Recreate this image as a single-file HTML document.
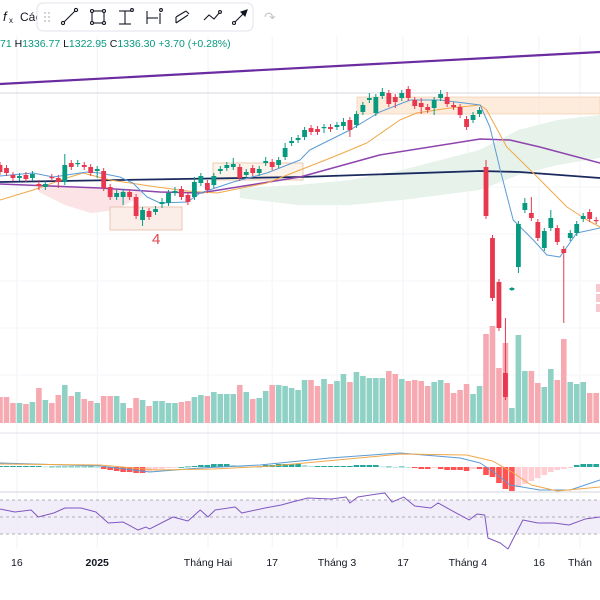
<!DOCTYPE html>
<html><head><meta charset="utf-8"><style>
html,body{margin:0;padding:0;background:#fff;}
svg{display:block;font-family:"Liberation Sans",sans-serif;}
</style></head><body>
<svg id="chart" width="600" height="600" viewBox="0 0 600 600">
<g id="grid"></g>
<g id="clouds"></g>
<g id="zones">
  <line x1="0" y1="93" x2="600" y2="93" stroke="#d6d9e0" stroke-width="1"/>
  <rect x="357" y="97" width="243" height="17" fill="#fde6d3" fill-opacity="0.8" stroke="#f5c6a0" stroke-width="0.6"/>
  <rect x="110" y="207" width="72" height="23" fill="#fbeee8" stroke="#e7b9a8" stroke-width="0.8"/>
  <rect x="213" y="163" width="90" height="17" fill="#fbeee2" fill-opacity="0.7" stroke="#e7c0a0" stroke-width="0.8"/>
  <text x="152" y="244" font-size="15" fill="#e0454f">4</text>
  <line x1="0" y1="84" x2="600" y2="52" stroke="#6a2ca0" stroke-width="2.2"/>
</g>
<g id="vol"></g>
<g id="lines"></g>
<g id="candles"></g>
<line x1="0" y1="433" x2="600" y2="433" stroke="#e0e3eb"/>
<g id="macd"></g>
<line x1="0" y1="492" x2="600" y2="492" stroke="#d1d4dc"/>
<g id="rsi">
  <rect x="0" y="500" width="600" height="34" fill="#ede7f6" fill-opacity="0.7"/>
  <line x1="0" y1="500" x2="600" y2="500" stroke="#9598a1" stroke-dasharray="3,3" stroke-width="0.8"/>
  <line x1="0" y1="517" x2="600" y2="517" stroke="#9598a1" stroke-dasharray="3,3" stroke-width="0.8"/>
  <line x1="0" y1="534" x2="600" y2="534" stroke="#9598a1" stroke-dasharray="3,3" stroke-width="0.8"/>
</g>
<g id="xaxis"></g>
<g>
  <rect x="596" y="284" width="4" height="8" fill="#f7c9cf"/>
  <rect x="596" y="294" width="4" height="8" fill="#f7c9cf"/>
  <rect x="596" y="304" width="4" height="8" fill="#f7c9cf"/>
</g>
<!-- header -->
<g>
  <text x="3" y="21" font-size="13" fill="#131722" font-style="italic">f</text>
  <text x="9" y="23" font-size="8" fill="#131722">x</text>
  <text x="20" y="21" font-size="12" fill="#131722">Các</text>
  <text x="264" y="22" font-size="14" fill="#c5c8ce">↷</text>
  <text x="0" y="47" font-size="10.5"><tspan fill="#089981">71 </tspan><tspan fill="#131722">H</tspan><tspan fill="#089981">1336.77 </tspan><tspan fill="#131722">L</tspan><tspan fill="#089981">1322.95 </tspan><tspan fill="#131722">C</tspan><tspan fill="#089981">1336.30 +3.70 (+0.28%)</tspan></text>
</g>
<g>
  <rect x="37" y="3" width="216" height="28" rx="6" fill="#fff" stroke="#e0e3eb"/>
  <g fill="#b2b5be"><circle cx="45" cy="13" r="0.9"/><circle cx="49" cy="13" r="0.9"/><circle cx="45" cy="17" r="0.9"/><circle cx="49" cy="17" r="0.9"/><circle cx="45" cy="21" r="0.9"/><circle cx="49" cy="21" r="0.9"/></g>
  <g fill="none" stroke="#131722" stroke-width="1.1">
    <g><line x1="64" y1="22" x2="75" y2="11"/><circle cx="63" cy="23" r="1.6" fill="#fff"/><circle cx="76" cy="10" r="1.6" fill="#fff"/></g>
    <g><rect x="92" y="11" width="12" height="12"/><circle cx="92" cy="11" r="1.5" fill="#fff"/><circle cx="104" cy="11" r="1.5" fill="#fff"/><circle cx="92" cy="23" r="1.5" fill="#fff"/><circle cx="104" cy="23" r="1.5" fill="#fff"/></g>
    <g><line x1="119" y1="11" x2="131" y2="11"/><line x1="119" y1="24" x2="131" y2="24"/><line x1="125" y1="11" x2="125" y2="24"/><circle cx="132" cy="10" r="1.4" fill="#fff"/></g>
    <g><line x1="147" y1="11" x2="147" y2="24"/><line x1="160" y1="13" x2="160" y2="24"/><line x1="147" y1="18" x2="158" y2="18"/><circle cx="161" cy="10" r="1.4" fill="#fff"/></g>
    <g><path d="M176 17 L186 11 M176 23 L188 15 M176 17 L176 23 M186 11 L189 14"/></g>
    <g><path d="M204 20 L209 15 L214 19 L220 12"/><circle cx="220" cy="12" r="1.4" fill="#fff"/></g>
    <g><line x1="235" y1="22" x2="245" y2="12"/><circle cx="234" cy="23" r="1.5" fill="#fff"/><path d="M241 12 L247 10 L245 16 Z" fill="#131722"/></g>
  </g>
</g>
</svg>
<script>
// ===== data =====
const openP  = [1265,1262,1255,1252,1255,1252,1246,1243,1253,1252,1248,1267,1266,1265,1263,1259,1259,1243,1233,1233,1238,1233,1210,1219,1218,1226,1227,1237,1241,1235,1233,1247,1247,1245,1259,1262,1263,1263,1255,1262,1257,1267,1268,1265,1273,1287,1290,1293,1302,1301,1302,1303,1303,1304,1310,1305,1318,1330,1317,1334,1337,1333,1332,1341,1330,1327,1323,1322,1332,1333,1325,1323,1311,1310,1316,1263,1192,1148,1057,1140,1163,1220,1217,1208,1182,1202,1202,1181,1192,1197,1211,1218,1210];
const closeP = [1258,1257,1252,1254,1251,1256,1244,1246,1252,1248,1265,1263,1267,1263,1257,1261,1242,1233,1237,1238,1233,1214,1220,1213,1221,1228,1237,1239,1233,1228,1248,1254,1240,1254,1261,1265,1266,1252,1258,1257,1261,1269,1263,1270,1282,1289,1292,1300,1298,1298,1303,1301,1305,1308,1300,1316,1325,1332,1333,1338,1326,1328,1337,1332,1324,1323,1320,1330,1336,1326,1323,1315,1303,1315,1320,1214,1132,1102,1033,1142,1206,1227,1212,1192,1199,1212,1188,1177,1197,1206,1214,1211,1209];
const highP  = [1268,1265,1258,1257,1258,1259,1250,1249,1256,1255,1276,1270,1270,1268,1266,1264,1262,1246,1240,1241,1241,1236,1223,1222,1224,1232,1240,1243,1244,1238,1253,1257,1250,1257,1264,1268,1272,1266,1261,1265,1264,1273,1271,1273,1287,1293,1295,1303,1305,1304,1306,1306,1308,1312,1313,1319,1328,1337,1336,1342,1340,1336,1340,1344,1333,1332,1326,1333,1340,1338,1328,1326,1314,1318,1323,1270,1195,1151,1112,1143,1209,1232,1233,1211,1202,1220,1205,1184,1200,1209,1217,1221,1213];
const lowP   = [1255,1254,1249,1249,1248,1249,1240,1240,1249,1242,1245,1260,1263,1260,1254,1252,1239,1230,1230,1225,1230,1211,1204,1210,1215,1222,1224,1234,1230,1225,1230,1244,1237,1242,1256,1259,1260,1249,1252,1254,1254,1264,1260,1262,1270,1284,1287,1290,1295,1295,1297,1298,1300,1300,1293,1302,1315,1327,1314,1331,1323,1322,1329,1329,1321,1316,1317,1315,1329,1323,1320,1312,1300,1307,1313,1211,1129,1099,1030,1139,1157,1217,1209,1189,1179,1199,1185,1107,1189,1194,1208,1208,1206];
const volume = [26,26,20,20,19,21,35,23,20,28,38,27,31,24,22,20,27,27,27,20,15,25,23,17,22,22,20,20,21,22,26,28,27,31,29,29,29,38,31,24,25,32,38,38,37,35,33,43,43,37,44,39,42,49,41,51,47,45,45,45,52,49,44,42,43,42,37,41,43,40,30,33,39,29,37,89,97,55,80,15,88,52,52,40,36,54,43,84,41,39,41,30,30];
const macdHist = [1,1,1,1,1,1,1,0.5,0.5,0.5,0.5,0.5,0.5,0.5,0.5,0,-2,-3,-4,-5,-5,-6,-6,-5,-3,-2,-1,-0.5,0,0.5,1,2,2,3,3,3,2,1,0.5,0.5,0.5,2,2,3,3,3,3,2,1,1,1,1,1,1,1,2,2,2,2,0.5,0.5,0,0.5,0,-1,-2,-2,-1,-2,-3,-3,-3,-4,-2,-2,-8,-10,-16,-22,-24,-20,-17,-14,-11,-8,-5,-3,-2,-1,2,3,3,3];
const macdIdx = [0,15.4,23.1,30.9,40.1,50.9,59.4,61.7,71,74.1,76.4,78.7,83.3,88,92.6];
const macdVal = [4,1,-5,-1,2,9,13,14,9,4,-6,-18,-23,-23,-13];
const signalIdx = [0,15.4,24,33,42,52,62,72,76,79,82,86,92.6];
const signalVal = [3,2,-3,-2,1,7,13,12,6,-5,-18,-24,-20];
const rsiIdx = [0,2.3,4.8,5.9,8.3,10,12.5,14.8,16.7,19,21.3,22.5,23.1,26.7,29,30.9,32.1,33.2,36.3,37.3,40.9,43.4,45.1,47.5,51.1,53.4,54,55.2,58.2,59.4,60.5,62.3,64,66.5,67.6,70.1,72.4,73.6,74.8,75.3,77.2,78.4,79.5,80.7,83,85.5,87.8,90.3,92.6];
const rsiVal = [59.4,55.9,58.2,50,54.7,60.6,60.6,55.9,42.9,44.1,34.7,38.2,35.9,50,45.3,58.2,50,58.2,61.8,54.7,60.6,64.1,67.6,72.4,71.2,73.5,66.5,73.5,77.1,78.2,67.6,73.5,62.9,60.6,66.5,55.9,46.5,53.5,52.4,25.3,19.4,12.4,28.8,46.5,42.9,42.9,40.6,47.6,50];
const blueIdx = [0,5.1,8.2,10.3,13.4,15.4,18.5,20.5,22.7,24.7,28.9,30.9,36,41.2,46.3,47.8,54,58.6,63.3,67.9,74.1,75.6,77.2,79.2,82.3,84.4,86.4,89,92.6];
const blueVal = [1254,1257,1253,1255,1258,1257,1253,1247,1233,1227,1228,1237,1248,1257,1270,1280,1300,1318,1330,1330,1325,1303,1260,1210,1190,1175,1173,1197,1202];
const orangeIdx = [0,5.1,10.3,12.8,17,23.1,28.9,33.5,41.2,46.3,51.4,56.6,61.7,64.3,69.4,74.1,75.1,78.2,82.3,87.5,90.6,92.6];
const orangeVal = [1230,1240,1252,1257,1250,1244,1239,1237,1247,1260,1273,1287,1310,1317,1322,1325,1320,1283,1257,1223,1210,1203];
const purpleIdx = [0,15.4,24.7,30.9,38.6,46.3,58.6,74.1,78.7,83.3,92.6];
const purpleVal = [1246,1242,1238,1237,1245,1253,1275,1291,1290,1283,1267];
const navyIdx = [0,46.3,74.1,80.2,92.6];
const navyVal = [1248,1253,1259,1258,1252];
const pinkCloudIdx = [6,10,14,18,22];
const pinkCloudA = [1246,1244,1242,1240,1238];
const pinkCloudB = [1238,1225,1217,1220,1235];
const greenCloudIdx = [37,46,54,62,74,80,86,92.6];
const greenCloudA = [1242,1245,1250,1260,1280,1300,1310,1315];
const greenCloudB = [1232,1225,1225,1230,1240,1255,1265,1272];
const tickLabels = ["16","2025","Tháng Hai","17","Tháng 3","17","Tháng 4","16","Thán"];
const tickIdx = [2.6,15,32.1,42,52,62.2,72.2,83.2,89.5];

// ===== scales =====
const STEP = 6.48;
const xs = i => i * STEP;
const ys = p => 1430 - p;
const yVol = v => 423 - v;
const yMacd = v => 467 - v;
const yRsi = r => 517 - (r - 50) * 0.85;
const NS = "http://www.w3.org/2000/svg";
function mk(tag, attrs, parent){ const e=document.createElementNS(NS,tag); for(const k in attrs) e.setAttribute(k,attrs[k]); parent.appendChild(e); return e; }
const G = id => document.getElementById(id);

// grid + x-axis
tickIdx.forEach((t,k)=>{
  const gl = mk('line',{x1:xs(t),x2:xs(t),y1:36,y2:548,stroke:'#f0f3fa','stroke-width':1},G('grid'));
  
  
  const tx = mk('text',{x:xs(t),y:566,'font-size':10.5,'text-anchor':'middle',fill:'#131722','font-weight':tickLabels[k]==='2025'?'bold':'normal'},G('xaxis'));
  tx.textContent = tickLabels[k];
  
  
});
[140,187,234,281,328,375].forEach(y=>{
  const hl = mk('line',{x1:0,x2:600,y1:y,y2:y,stroke:'#f5f6f9'},G('grid'));
  
  
});

// clouds
function cloud(idx,a,b,fill){
  let pts = idx.map((t,k)=>xs(t)+','+ys(a[k]));
  pts = pts.concat(idx.slice().reverse().map((t,k)=>xs(t)+','+ys(b[idx.length-1-k])));
  return mk('polygon',{points:pts.join(' '),fill:fill},G('clouds'));
}
const pc = cloud(pinkCloudIdx,pinkCloudA,pinkCloudB,'#fbe3e6');


const gc = cloud(greenCloudIdx,greenCloudA,greenCloudB,'#e6f2ea');



// volume
volume.forEach((v,i)=>{
  const up = closeP[i] >= openP[i];
  const r = mk('rect',{x:xs(i)-2.8,y:yVol(v),width:5.6,height:v,fill:up?'#8fd1c4':'#f7a9b1'},G('vol'));
  
  
});

// lines
function poly(idx,val,fy,color,w,parent){
  return mk('polyline',{points:idx.map((t,k)=>xs(t)+','+fy(val[k])).join(' '),fill:'none',stroke:color,'stroke-width':w,'stroke-linejoin':'round'},parent);
}
const ln = poly(navyIdx,navyVal,ys,'#1a2a5e',1.8,G('lines'));


const lp = poly(purpleIdx,purpleVal,ys,'#8e44ad',1.5,G('lines'));


const lo = poly(orangeIdx,orangeVal,ys,'#f0a848',1,G('lines'));


const lb = poly(blueIdx,blueVal,ys,'#5b9bd5',1,G('lines'));



// candles
openP.forEach((o,i)=>{
  const c = closeP[i], up = c >= o, col = up ? '#089981' : '#e8384f';
  const g = mk('g',{},G('candles'));
  
  
  mk('line',{x1:xs(i),x2:xs(i),y1:ys(highP[i]),y2:ys(lowP[i]),stroke:col,'stroke-width':1},g);
  const top = ys(Math.max(o,c)), h = Math.max(1.2, Math.abs(o-c));
  mk('rect',{x:xs(i)-2.4,y:top,width:4.8,height:h,fill:col},g);
});

// MACD
macdHist.forEach((v,i)=>{
  const prev = i>0 ? macdHist[i-1] : v;
  let col;
  if (v >= 0) col = v >= prev ? '#26a69a' : '#b2dfdb';
  else col = v <= prev ? '#ff5252' : '#ffcdd2';
  const h = Math.max(0.8, Math.abs(v));
  const r = mk('rect',{x:xs(i)-2.8,y:v>=0?yMacd(v):yMacd(0),width:5.6,height:h,fill:col},G('macd'));
  
  
});
const ml = poly(macdIdx,macdVal,yMacd,'#5b9bd5',1,G('macd'));


const sl = poly(signalIdx,signalVal,yMacd,'#f0a848',1,G('macd'));



// RSI
const rl = poly(rsiIdx,rsiVal,yRsi,'#7e57c2',1,G('rsi'));


</script>
</body></html>
